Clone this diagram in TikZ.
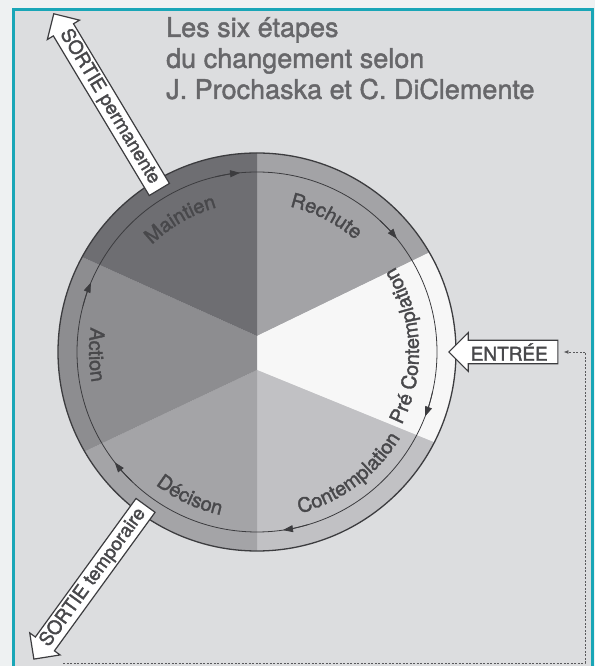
\documentclass[tikz,border=0pt]{standalone}
\usepackage{fontspec}
\setmainfont{TeX Gyre Heros}
\setsansfont{TeX Gyre Heros}
\newfontfamily\herosgras[FakeBold=1.6]{TeX Gyre Heros}
\usetikzlibrary{shapes.arrows,arrows.meta,decorations.text}

\definecolor{cadre}{HTML}{19A6B7}
\definecolor{fond}{HTML}{DCDDDF}
\definecolor{dehors}{HTML}{EEF1F2}
\definecolor{maintien}{HTML}{6E6E72}
\definecolor{rechute}{HTML}{A3A3A6}
\definecolor{precontemp}{HTML}{F7F7F7}
\definecolor{contemp}{HTML}{C1C1C4}
\definecolor{decision}{HTML}{A4A4A7}
\definecolor{action}{HTML}{8D8D90}
\definecolor{trait}{HTML}{3C3C3F}
\definecolor{etiquette}{HTML}{48484B}
\definecolor{titregris}{HTML}{67676A}

\tikzset{
  titre/.style={align=left, inner sep=0, text=titregris, font=\herosgras\fontsize{27}{31}\selectfont},
  fleche/.style={single arrow, draw=trait, fill=white, line width=1.2pt, inner sep=2pt,
    single arrow head extend=7pt, shape border rotate=180, text=etiquette,
    font=\herosgras\fontsize{19}{19}\selectfont},
  retour/.style={draw=trait!85, dash pattern=on 2pt off 1.5pt, line width=0.9pt},
}

\newcommand{\etiquettefont}{\herosgras\fontsize{20}{20}\selectfont\color{etiquette}}
% texte courbe le long d'un arc : debut, fin, rayon, texte
\newcommand{\etape}[4]{%
  \path[decorate, decoration={text along path, text align=center,
    text={|\etiquettefont|#4}}] (#1:#3) arc[start angle=#1, end angle=#2, radius=#3];}

\begin{document}
\begin{tikzpicture}[x=1pt, y=1pt, font=\sffamily]

    \clip (0,0) rectangle (595,666);
    \fill[dehors] (0,0) rectangle (595,666);
    \draw[cadre, line width=3, fill=fond] (13.5,656.5) rectangle (592,-10);

    % Titre
    \node[titre, anchor=north west] (titre) at (166,649) {Les six étapes\\du changement selon\\J. Prochaska et C. DiClemente};

    \def\R{199}
    \def\r{180}
    \begin{scope}[shift={(257,314)}]
      \coordinate (A) at (0,16);
      \coordinate (B) at (0,-18);

      % Parts du cercle
      \foreach \a/\b/\p/\q/\col in {90/30/A/A/rechute, 30/-27/A/B/precontemp, -27/-90/B/B/contemp,
                                    -90/-150/B/B/decision, -150/-208.5/B/A/action, -208.5/-270/A/A/maintien} {
        \fill[\col] (\p) -- (\a:\R) arc[start angle=\a, end angle=\b, radius=\R] -- (\q) -- cycle;
      }

      % Cercles
      \draw[trait, line width=1.3pt] (0,0) circle[radius=\R];
      \draw[trait, line width=0.8pt] (0,0) circle[radius=\r];
      \foreach \a in {95.4, 39, -21, -81.7, -142.2, 157.3} {
        \draw[trait, line width=0.8pt, -{Triangle[length=10pt,width=7pt]}] ({\a+8}:\r) arc[start angle=\a+8, end angle=\a, radius=\r];
      }

      % Etapes
      \etape{165}{75}{150}{Maintien}
      \etape{108}{18}{149}{Rechute}
      \etape{-45}{50}{162}{Pré Contemplation}
      \etape{-98}{-8}{167}{Contemplation}
      \etape{-160}{-70}{167}{Décison}
      \etape{140}{222}{168}{Action}

      % Sorties et entree
      \node[fleche, anchor=tail, rotate=-59, minimum height=205, minimum width=36] (sortieperm) at (121:189) {SORTIE permanente};
      \node[fleche, anchor=tail, rotate=54, minimum height=190, minimum width=36] (sortietemp) at (234:189) {SORTIE temporaire};
      \node[fleche, anchor=tip, minimum height=109, minimum width=38, inner sep=2.5pt,
            single arrow head extend=7.5pt] (entree) at (191,0) {ENTRÉE};
    \end{scope}

    % Retour
    \coordinate (sortiebas) at (63,3);
    \coordinate (coin) at (585,3);
    \draw[retour, -{Latex[length=5pt,width=4pt]}, shorten >=5pt] (sortiebas) -- (coin) |- (entree.tail);

\end{tikzpicture}
\end{document}
